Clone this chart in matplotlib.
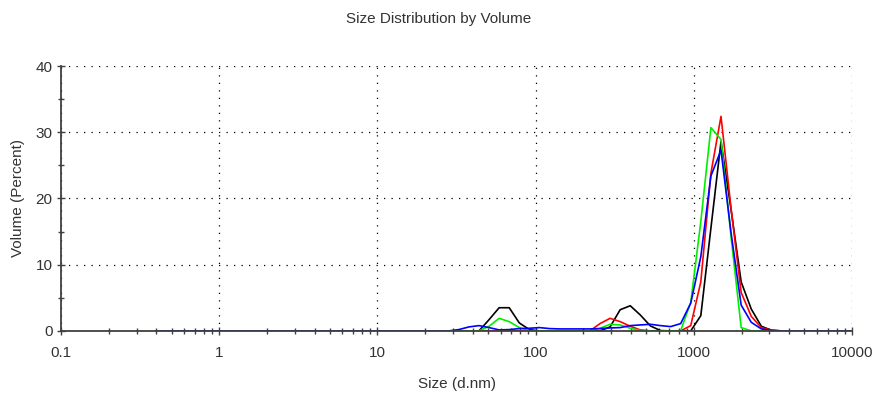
import matplotlib
matplotlib.use("Agg")
import matplotlib.pyplot as plt
from matplotlib.ticker import FixedLocator, LogLocator, NullFormatter

plt.rcParams['font.family'] = ['Liberation Sans', 'DejaVu Sans']

# Malvern size classes (d.nm)
sizes = [0.4, 0.4632, 0.5365, 0.6213, 0.7195, 0.8332, 0.9649, 1.117, 1.294, 1.499,
         1.736, 2.010, 2.328, 2.696, 3.122, 3.615, 4.187, 4.849, 5.615, 6.503,
         7.531, 8.721, 10.10, 11.70, 13.54, 15.69, 18.17, 21.04, 24.36, 28.21,
         32.67, 37.84, 43.82, 50.75, 58.77, 68.06, 78.82, 91.28, 105.7, 122.4,
         141.8, 164.2, 190.1, 220.2, 255.0, 295.3, 342.0, 396.1, 458.7, 531.2,
         615.1, 712.4, 825.0, 955.4, 1106, 1281, 1484, 1718, 1990, 2305,
         2669, 3091, 3580, 4145, 4801, 5560, 6439, 7456, 8635, 10000]

# volume % per class (29 leading zeros up to 24.36 nm)
zeros_29 = [0.0] * 29
black = zeros_29 + [0.0, 0.0, 0.0, 0.0, 1.7, 3.5, 3.5, 1.2, 0.2, 0.0, 0.0,
                    0.0, 0.0, 0.0, 0.0, 0.0, 0.6, 3.2, 3.8, 2.4, 0.75,
                    0.05, 0.0, 0.0, 0.0, 2.3, 15.5, 28.6, 18.3, 7.4, 3.3,
                    0.7, 0.1, 0.0, 0.0, 0.0, 0.0, 0.0, 0.0, 0.0, 0.0]
red = zeros_29 + [0.0, 0.0, 0.0, 0.0, 0.0, 0.0, 0.0, 0.0, 0.0, 0.0, 0.0,
                  0.0, 0.0, 0.0, 0.0, 1.1, 1.9, 1.4, 0.7, 0.15, 0.0,
                  0.0, 0.0, 0.0, 0.8, 7.4, 23.8, 32.4, 18.5, 5.8, 2.2,
                  0.5, 0.1, 0.0, 0.0, 0.0, 0.0, 0.0, 0.0, 0.0, 0.0]
green = zeros_29 + [0.0, 0.0, 0.0, 0.0, 0.7, 1.9, 1.4, 0.5, 0.05, 0.0, 0.0,
                    0.0, 0.0, 0.0, 0.0, 0.4, 1.0, 0.9, 0.4, 0.05, 0.0,
                    0.0, 0.0, 0.05, 4.3, 16.5, 30.7, 28.9, 14.2, 0.5, 0.0,
                    0.0, 0.0, 0.0, 0.0, 0.0, 0.0, 0.0, 0.0, 0.0, 0.0]
blue = zeros_29 + [0.0, 0.2, 0.6, 0.8, 0.5, 0.15, 0.2, 0.35, 0.4, 0.5, 0.35,
                   0.3, 0.3, 0.3, 0.3, 0.35, 0.45, 0.5, 0.8, 0.9, 1.0,
                   0.8, 0.65, 1.1, 4.2, 11.2, 23.4, 27.3, 14.8, 3.9, 1.3,
                   0.3, 0.05, 0.0, 0.0, 0.0, 0.0, 0.0, 0.0, 0.0, 0.0]

x_ticks = [0.1, 1, 10, 100, 1000, 10000]
x_labels = ["0.1", "1", "10", "100", "1000", "10000"]
y_ticks = [0, 10, 20, 30, 40]

txt = "#333333"
fig = plt.figure(figsize=(8.77, 3.93), dpi=100)
ax = fig.add_axes([0.0696, 0.158, 0.902, 0.674])

for ys, c in [(black, "black"), (red, "#ff0000"), (green, "#00ee00"), (blue, "#0000ff")]:
    ax.plot(sizes, ys, color=c, lw=1.2)

ax.set_xscale("log")
ax.set_xlim(0.1, 10000)
ax.set_ylim(0, 40)
ax.set_xticks(x_ticks)
ax.set_xticklabels(x_labels)
ax.xaxis.set_minor_locator(LogLocator(base=10, subs=range(2, 10), numticks=20))
ax.xaxis.set_minor_formatter(NullFormatter())
ax.set_yticks(y_ticks)
ax.yaxis.set_minor_locator(FixedLocator([5, 15, 25, 35]))

ax.grid(True, which="major", color="black", linestyle=(0, (1, 5)), linewidth=0.9)
for s in ["top", "right"]:
    ax.spines[s].set_visible(False)
for s in ["left", "bottom"]:
    ax.spines[s].set_color("#404040")
    ax.spines[s].set_linewidth(1.3)

ax.tick_params(which="major", direction="inout", length=6, width=1, color="#404040",
               labelsize=11, labelcolor=txt)
ax.tick_params(axis="x", which="major", pad=8)
ax.tick_params(axis="y", which="major", pad=3)
ax.tick_params(which="minor", direction="inout", length=5, width=1, color="#404040")

ax.set_xlabel("Size (d.nm)", fontsize=11, labelpad=12, color=txt)
ax.set_ylabel("Volume (Percent)", fontsize=11, labelpad=8, color=txt)
fig.suptitle("Size Distribution by Volume", fontsize=11, y=0.97, color=txt)

fig.savefig("out.png", dpi=100)
